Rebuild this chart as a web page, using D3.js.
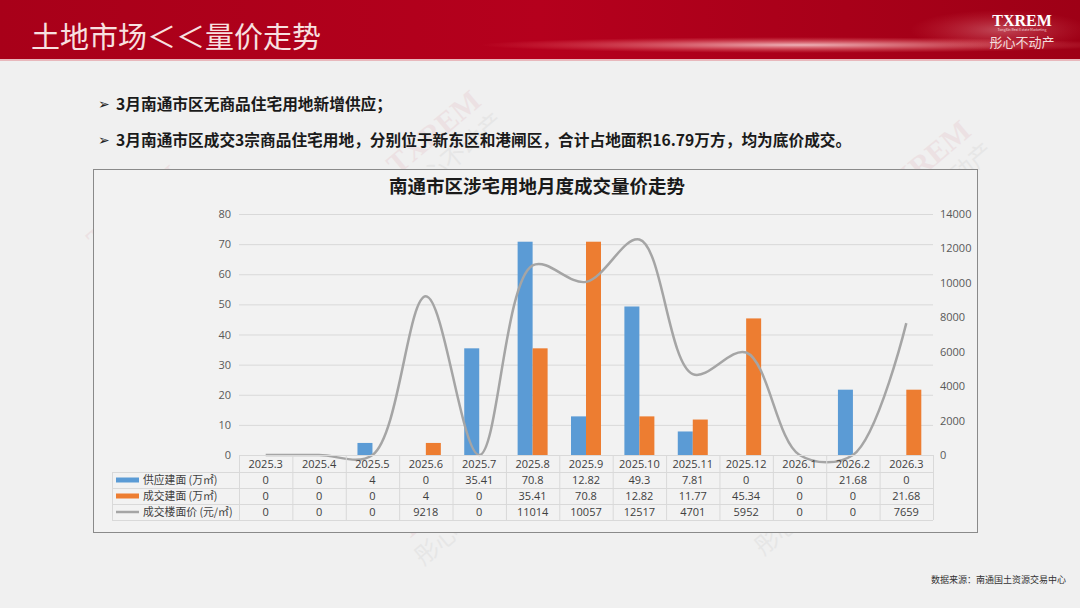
<!DOCTYPE html>
<html><head><meta charset="utf-8">
<script src="https://cdn.jsdelivr.net/npm/d3@7"></script>
<style>
html,body{margin:0;padding:0;background:#f0f0f0;}
svg{display:block;font-family:"Noto Sans CJK SC","Microsoft YaHei",sans-serif;}
</style></head>
<body><svg id="c" width="1080" height="608"></svg>
<script>
const categories = ["2025.3","2025.4","2025.5","2025.6","2025.7","2025.8","2025.9","2025.10","2025.11","2025.12","2026.1","2026.2","2026.3"];
const supplyArea = [0,0,4,0,35.41,70.8,12.82,49.3,7.81,0,0,21.68,0];
const dealArea = [0,0,0,4,0,35.41,70.8,12.82,11.77,45.34,0,0,21.68];
const dealPrice = [0,0,0,9218,0,11014,10057,12517,4701,5952,0,0,7659];
const leftTicks = [0,10,20,30,40,50,60,70,80];
const rightTicks = [0,2000,4000,6000,8000,10000,12000,14000];
const seriesNames = ["供应建面 (万㎡)","成交建面 (万㎡)","成交楼面价 (元/㎡)"];
const bullets = ["3月南通市区无商品住宅用地新增供应；","3月南通市区成交3宗商品住宅用地，分别位于新东区和港闸区，合计占地面积16.79万方，均为底价成交。"];

const svg = d3.select("#c");
const defs = svg.append("defs");
const g1 = defs.append("linearGradient").attr("id","hdr").attr("x1","0").attr("x2","1");
g1.append("stop").attr("offset","0").attr("stop-color","#a80019");
g1.append("stop").attr("offset","0.5").attr("stop-color","#b5001d");
g1.append("stop").attr("offset","1").attr("stop-color","#9e0016");
const rg = defs.append("radialGradient").attr("id","glow");
rg.append("stop").attr("offset","0").attr("stop-color","#ffe0e0").attr("stop-opacity",0.8);
rg.append("stop").attr("offset","1").attr("stop-color","#ff8080").attr("stop-opacity",0);

svg.append("rect").attr("width",1080).attr("height",608).attr("fill","#f0f0f0");
svg.append("rect").attr("width",1080).attr("height",60).attr("fill","url(#hdr)");
svg.append("ellipse").attr("cx",800).attr("cy",45).attr("rx",320).attr("ry",8).attr("fill","url(#glow)");
svg.append("ellipse").attr("cx",1000).attr("cy",30).attr("rx",90).attr("ry",20).attr("fill","url(#glow)").attr("opacity",0.4);
svg.append("rect").attr("y",59).attr("width",1080).attr("height",2).attr("fill","#e8b8bc");
svg.append("text").attr("x",31).attr("y",48).attr("font-size",29).attr("fill","#f8e0e0").text("土地市场＜＜量价走势");
svg.append("text").attr("x",1022).attr("y",26).attr("text-anchor","middle").attr("font-size",16).attr("font-weight","bold").attr("font-family","Liberation Serif,serif").attr("fill","#ffffff").text("TXREM");
svg.append("text").attr("x",1022).attr("y",31).attr("text-anchor","middle").attr("font-size",3.5).attr("fill","#f0d0d0").text("TongXin Real Estate Marketing");
svg.append("text").attr("x",1022).attr("y",47).attr("text-anchor","middle").attr("font-size",13).attr("fill","#f3dede").text("彤心不动产");

const wm = [[140,215],[440,140],[640,225],[930,170],[215,400],[450,505],[790,495],[620,330]];
wm.forEach(([x,y])=>{
  const w = svg.append("g").attr("transform",`translate(${x},${y}) rotate(-40)`).attr("opacity",0.06);
  w.append("text").attr("text-anchor","middle").attr("font-size",30).attr("font-weight","bold").attr("font-family","Liberation Serif,serif").attr("fill","#b00020").text("TXREM");
  w.append("text").attr("y",30).attr("text-anchor","middle").attr("font-size",24).attr("fill","#555").text("彤心不动产");
});

bullets.forEach((t,i)=>{
  const y = 110 + i*36;
  svg.append("text").attr("x",98).attr("y",y-1).attr("font-size",14).attr("fill","#222").text("➢");
  svg.append("text").attr("x",116).attr("y",y).attr("font-size",15.7).attr("font-weight","bold").attr("fill","#1a1a1a").text(t);
});

svg.append("rect").attr("x",93.5).attr("y",169.5).attr("width",884).attr("height",363).attr("fill","#f2f2f2").attr("stroke","#8a8a8a").attr("stroke-width",1);
svg.append("text").attr("x",537).attr("y",193).attr("text-anchor","middle").attr("font-size",18.5).attr("font-weight","bold").attr("fill","#1a1a1a").text("南通市区涉宅用地月度成交量价走势");

const x = d3.scaleBand().domain(categories).range([239,933]).padding(0);
const x1 = d3.scaleBand().domain(["s","d"]).range([0,x.bandwidth()]).paddingInner(0).paddingOuter(0.78);
const yL = d3.scaleLinear().domain([0,80]).range([455,214]);
const yR = d3.scaleLinear().domain([0,14000]).range([455,214]);

svg.append("g").selectAll("line").data(leftTicks.slice(1)).join("line")
  .attr("x1",239).attr("x2",933).attr("y1",d=>yL(d)+0.5).attr("y2",d=>yL(d)+0.5)
  .attr("stroke","#d9d9d9").attr("stroke-width",1);

const axL = svg.append("g").attr("transform","translate(239,0)").call(d3.axisLeft(yL).tickValues(leftTicks).tickSize(0).tickPadding(8));
axL.select(".domain").remove();
axL.selectAll("text").attr("font-size",11).attr("fill","#595959").attr("font-family","Open Sans,sans-serif");
const axR = svg.append("g").attr("transform","translate(933,0)").call(d3.axisRight(yR).tickValues(rightTicks).tickFormat(d3.format("d")).tickSize(0).tickPadding(7));
axR.select(".domain").remove();
axR.selectAll("text").attr("font-size",11).attr("fill","#595959").attr("font-family","Open Sans,sans-serif");

const colors = {s:"#5b9bd5", d:"#ed7d31", p:"#a5a5a5"};
svg.append("g").selectAll("rect").data(categories.map((c,i)=>({c,v:supplyArea[i]}))).join("rect")
  .attr("x",d=>x(d.c)+x1("s")).attr("width",x1.bandwidth())
  .attr("y",d=>yL(d.v)).attr("height",d=>yL(0)-yL(d.v)).attr("fill",colors.s);
svg.append("g").selectAll("rect").data(categories.map((c,i)=>({c,v:dealArea[i]}))).join("rect")
  .attr("x",d=>x(d.c)+x1("d")).attr("width",x1.bandwidth())
  .attr("y",d=>yL(d.v)).attr("height",d=>yL(0)-yL(d.v)).attr("fill",colors.d);

const line = d3.line().x((d,i)=>x(categories[i])+x.bandwidth()/2).y(d=>yR(d)).curve(d3.curveCatmullRom.alpha(0.5));
svg.append("path").datum(dealPrice).attr("d",line).attr("fill","none").attr("stroke",colors.p).attr("stroke-width",2.5);

svg.append("line").attr("x1",239).attr("x2",933).attr("y1",455.5).attr("y2",455.5).attr("stroke","#d9d9d9");

const rowY = [455,472,488,504,520];
const tbl = svg.append("g");
[472,488,504,520].forEach(y=>{
  tbl.append("line").attr("x1",112).attr("x2",933).attr("y1",y+0.5).attr("y2",y+0.5).attr("stroke","#d9d9d9");
});
categories.forEach(c=>{
  tbl.append("line").attr("x1",x(c)+0.5).attr("x2",x(c)+0.5).attr("y1",455).attr("y2",520).attr("stroke","#d9d9d9");
});
tbl.append("line").attr("x1",933.5).attr("x2",933.5).attr("y1",455).attr("y2",520).attr("stroke","#d9d9d9");
tbl.append("line").attr("x1",112.5).attr("x2",112.5).attr("y1",472).attr("y2",520).attr("stroke","#d9d9d9");
tbl.selectAll("text.cat").data(categories).join("text").attr("class","cat")
  .attr("x",d=>x(d)+x.bandwidth()/2).attr("y",468).attr("text-anchor","middle")
  .attr("font-size",11).attr("fill","#404040").attr("font-family","Open Sans,sans-serif").text(d=>d);
const rows = [supplyArea, dealArea, dealPrice];
rows.forEach((r,ri)=>{
  const cy = (rowY[ri+1]+rowY[ri+2])/2 + 4;
  tbl.selectAll("text.r"+ri).data(r).join("text").attr("class","r"+ri)
    .attr("x",(d,i)=>x(categories[i])+x.bandwidth()/2).attr("y",cy).attr("text-anchor","middle")
    .attr("font-size",11).attr("fill","#404040").attr("font-family","Open Sans,sans-serif").text(d=>d);
  const ky = (rowY[ri+1]+rowY[ri+2])/2;
  if(ri<2){
    tbl.append("rect").attr("x",116).attr("y",ky-2.5).attr("width",23).attr("height",5).attr("fill",ri===0?colors.s:colors.d);
  } else {
    tbl.append("line").attr("x1",116).attr("x2",139).attr("y1",ky).attr("y2",ky).attr("stroke",colors.p).attr("stroke-width",2.5);
  }
  tbl.append("text").attr("x",143).attr("y",cy).attr("font-size",10.8).attr("fill","#404040").text(seriesNames[ri]);
});

svg.append("text").attr("x",1066).attr("y",583).attr("text-anchor","end").attr("font-size",9).attr("fill","#333").text("数据来源：南通国土资源交易中心");
</script></body></html>
